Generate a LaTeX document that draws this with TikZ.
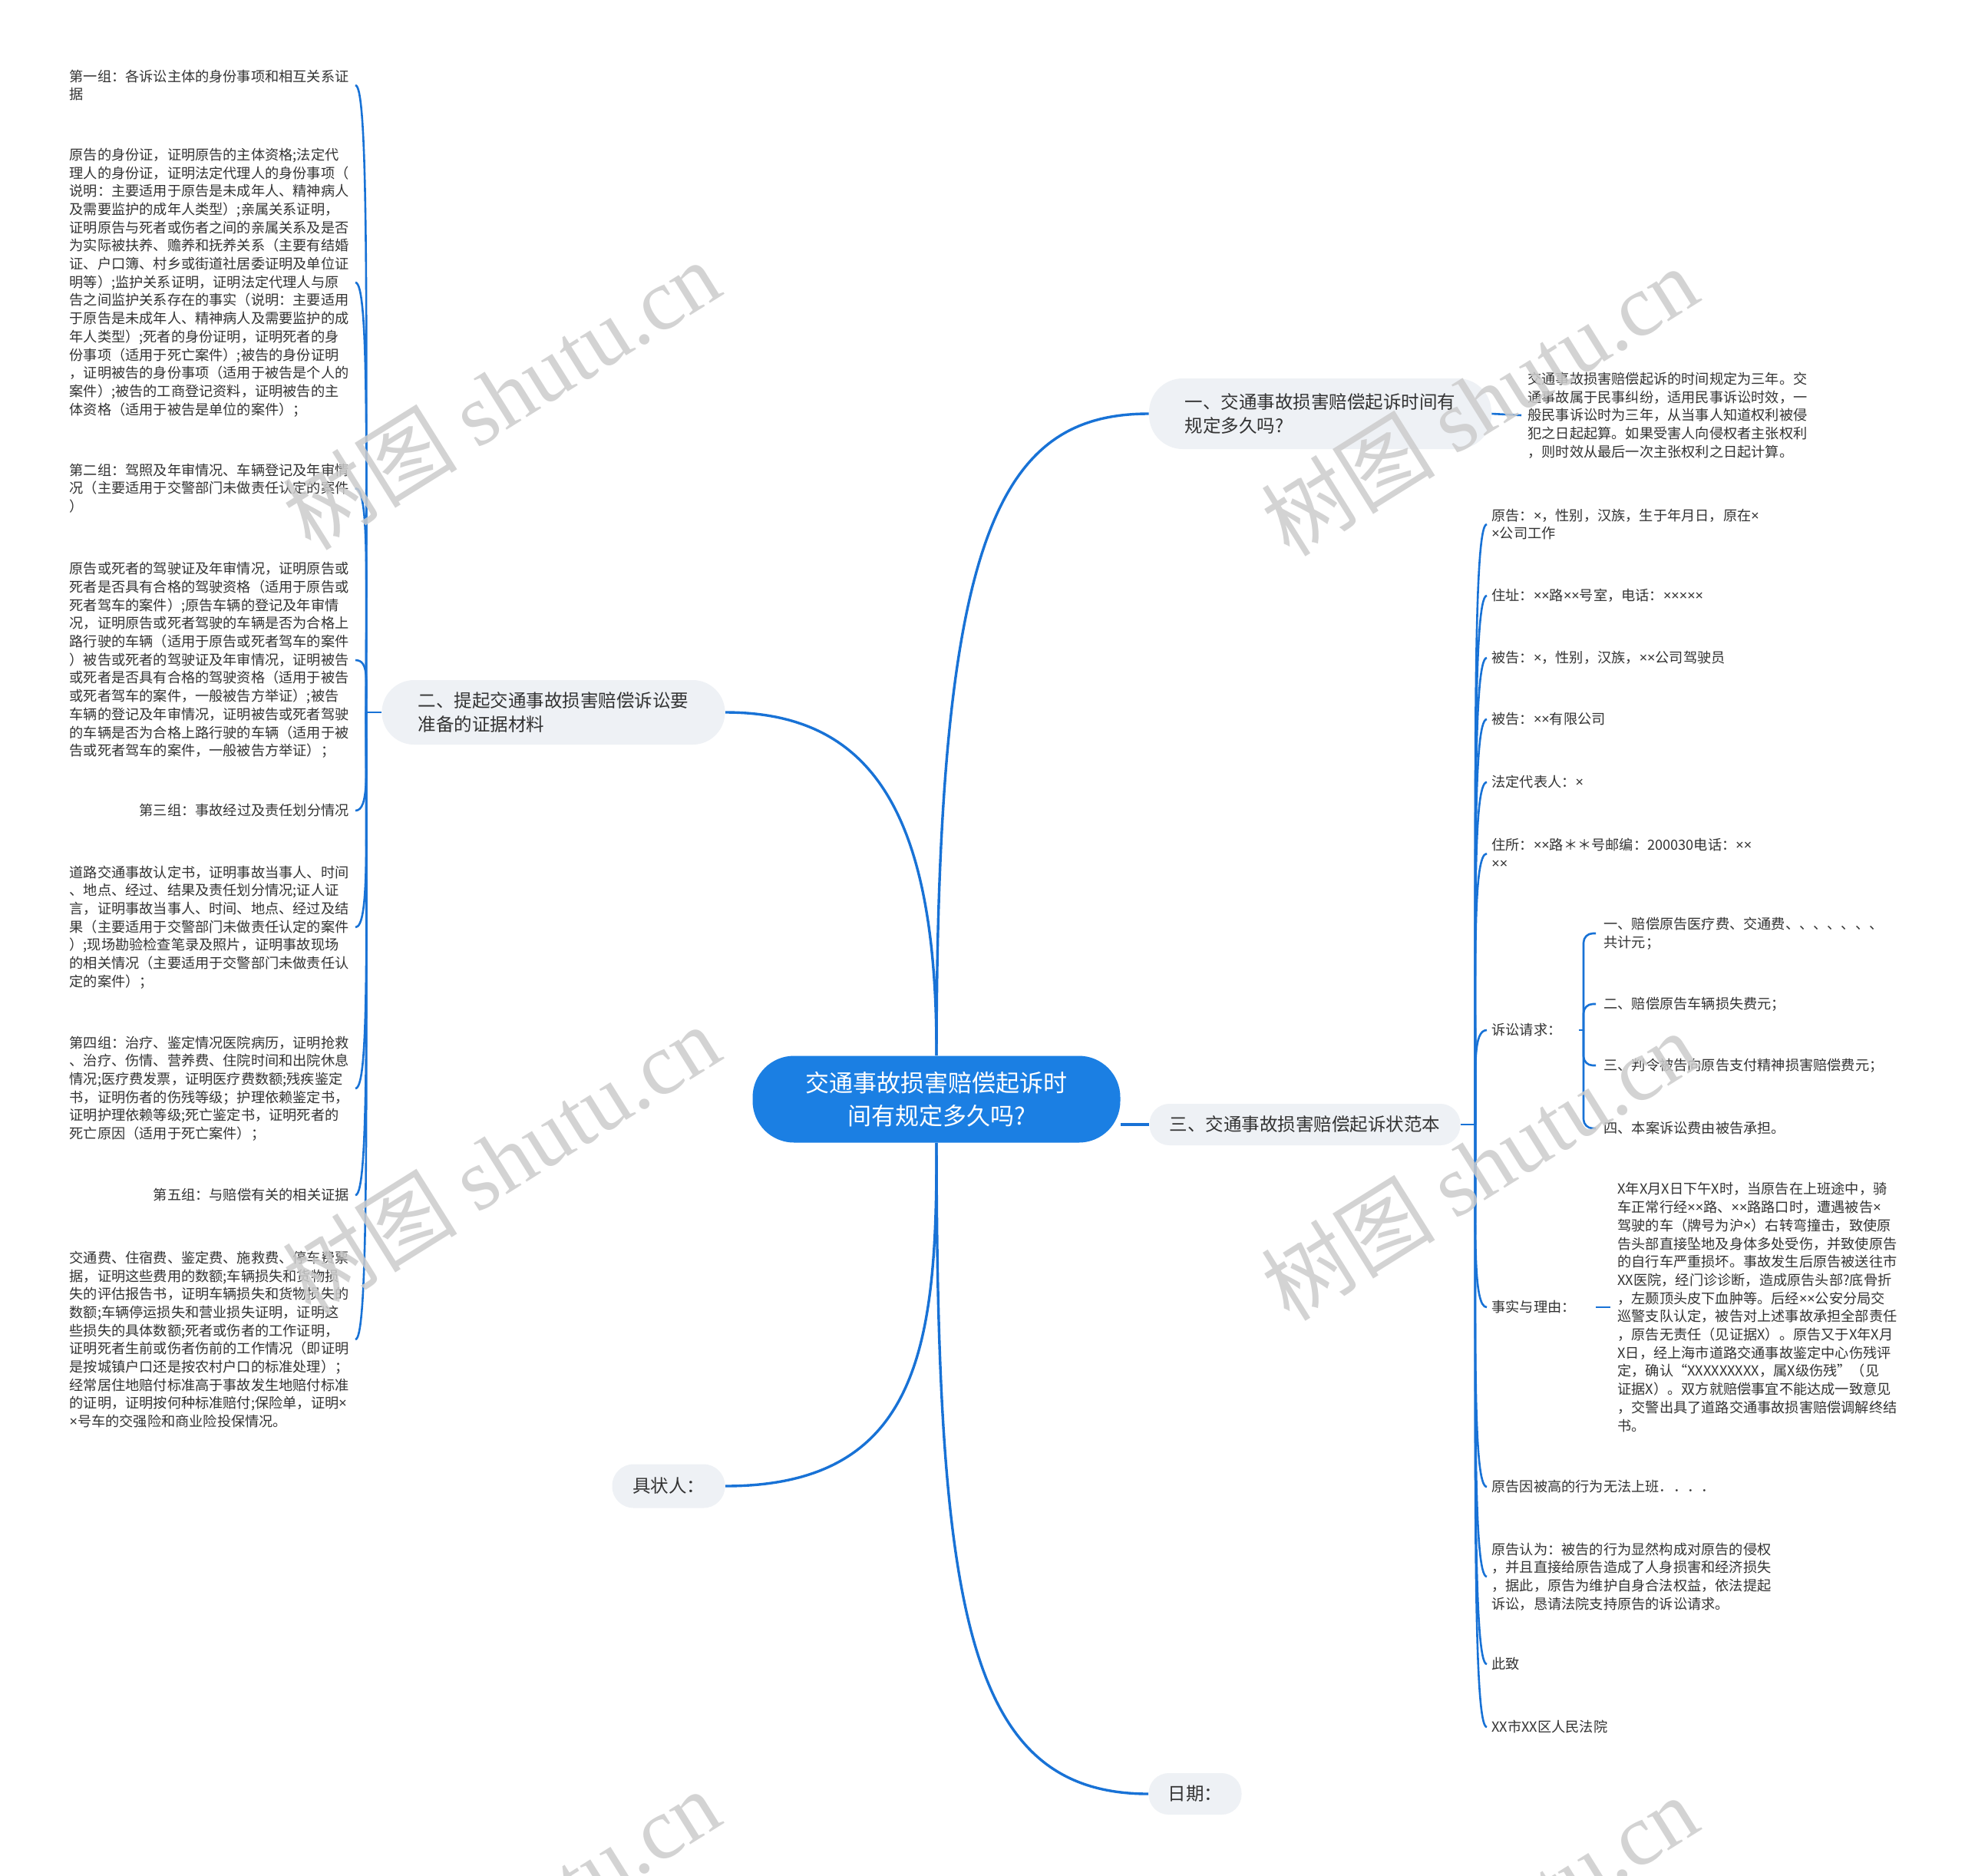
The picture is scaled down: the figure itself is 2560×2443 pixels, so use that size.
\documentclass[tikz,border=0pt]{standalone}
\usepackage{fontspec}
\setmainfont{Noto Sans CJK SC}
\newfontfamily\wmserif{Liberation Serif}
\newfontfamily\latinx{Noto Sans}
\usepackage{newunicodechar}
\newunicodechar{×}{{\latinx\char"D7}}
\usetikzlibrary{calc}
\definecolor{lnk}{HTML}{1872D6}
\definecolor{ctr}{HTML}{1B7FE3}
\definecolor{boxfill}{HTML}{EEF1F5}
\definecolor{txt}{HTML}{333333}
\pgfdeclarelayer{bgzero}
\pgfdeclarelayer{background}
\pgfdeclarelayer{fg}
\pgfsetlayers{bgzero,background,main,fg}
\tikzset{
  leaf/.style={font=\fontsize{9.1}{11.85}\selectfont, text=txt, align=left, inner xsep=4pt, inner ysep=1pt},
  branch/.style={fill=boxfill, font=\fontsize{11.75}{15.5}\selectfont, text=txt, align=left, inner sep=0pt},
  center/.style={fill=ctr, rounded corners=27pt, font=\fontsize{15.5}{21.25}\selectfont, text=white, align=center, inner sep=0pt, minimum width=239.5pt, minimum height=56.5pt},
  link/.style={draw=lnk, line width=1.3pt},
  mainlink/.style={draw=lnk, line width=1.7pt},
  wm/.style={rotate=32, font=\fontsize{57}{62}\selectfont, text=black!20, text opacity=0.85}
}
\newcommand\leftlink[1]{\draw[link] (J1) .. controls ($(J1)!0.6!(J1 |- #1.east)$) and ($(#1.east)+(18,0)$) .. (#1.east);}
\newcommand\rightlink[1]{\draw[link] (J3) .. controls ($(J3)!0.6!(J3 |- #1.west)$) and ($(#1.west)+(-18,0)$) .. (#1.west);}
\begin{document}
\begin{tikzpicture}[x=0.5pt,y=-0.5pt]
\useasboundingbox (0,0) rectangle (2560,2443);
\begin{pgfonlayer}{bgzero}
\fill[white] (0,0) rectangle (2560,2443);
\end{pgfonlayer}

% central and branches
\node[center] (c) at (1220,1432) {交通事故损害赔偿起诉时\\间有规定多久吗?};
\node[branch, rounded corners=22pt, minimum width=223pt, minimum height=46pt] (b1) at (1720,539) {一、交通事故损害赔偿起诉时间有\\规定多久吗?};
\node[branch, rounded corners=21pt, minimum width=223.5pt, minimum height=42pt] (b2) at (721,928) {二、提起交通事故损害赔偿诉讼要\\准备的证据材料};
\node[branch, rounded corners=13pt, minimum width=202.5pt, minimum height=27pt] (b3) at (1700,1465) {三、交通事故损害赔偿起诉状范本};
\node[branch, rounded corners=14pt, minimum width=73.5pt, minimum height=28.5pt] (b4) at (871,1936) {具状人：};
\node[branch, rounded corners=13pt, minimum width=60.5pt, minimum height=27pt] (b5) at (1557,2337) {日期：};

% branch 1 leaf
\node[leaf, anchor=west] (t1) at (1982,541) {交通事故损害赔偿起诉的时间规定为三年。交\\通事故属于民事纠纷，适用民事诉讼时效，一\\般民事诉讼时为三年，从当事人知道权利被侵\\犯之日起起算。如果受害人向侵权者主张权利\\，则时效从最后一次主张权利之日起计算。};

% left leaves
\node[leaf, anchor=east] (l1) at (463,111) {第一组：各诉讼主体的身份事项和相互关系证\\据};
\node[leaf, anchor=east] (l2) at (463,368) {原告的身份证，证明原告的主体资格;法定代\\理人的身份证，证明法定代理人的身份事项（\\说明：主要适用于原告是未成年人、精神病人\\及需要监护的成年人类型）;亲属关系证明，\\证明原告与死者或伤者之间的亲属关系及是否\\为实际被扶养、赡养和抚养关系（主要有结婚\\证、户口簿、村乡或街道社居委证明及单位证\\明等）;监护关系证明，证明法定代理人与原\\告之间监护关系存在的事实（说明：主要适用\\于原告是未成年人、精神病人及需要监护的成\\年人类型）;死者的身份证明，证明死者的身\\份事项（适用于死亡案件）;被告的身份证明\\，证明被告的身份事项（适用于被告是个人的\\案件）;被告的工商登记资料，证明被告的主\\体资格（适用于被告是单位的案件）；};
\node[leaf, anchor=east] (l3) at (463,636) {第二组：驾照及年审情况、车辆登记及年审情\\况（主要适用于交警部门未做责任认定的案件\\）};
\node[leaf, anchor=east] (l4) at (463,860) {原告或死者的驾驶证及年审情况，证明原告或\\死者是否具有合格的驾驶资格（适用于原告或\\死者驾车的案件）;原告车辆的登记及年审情\\况，证明原告或死者驾驶的车辆是否为合格上\\路行驶的车辆（适用于原告或死者驾车的案件\\）被告或死者的驾驶证及年审情况，证明被告\\或死者是否具有合格的驾驶资格（适用于被告\\或死者驾车的案件，一般被告方举证）;被告\\车辆的登记及年审情况，证明被告或死者驾驶\\的车辆是否为合格上路行驶的车辆（适用于被\\告或死者驾车的案件，一般被告方举证）；};
\node[leaf, anchor=east] (l5) at (463,1056) {第三组：事故经过及责任划分情况};
\node[leaf, anchor=east] (l6) at (463,1208) {道路交通事故认定书，证明事故当事人、时间\\、地点、经过、结果及责任划分情况;证人证\\言，证明事故当事人、时间、地点、经过及结\\果（主要适用于交警部门未做责任认定的案件\\）;现场勘验检查笔录及照片，证明事故现场\\的相关情况（主要适用于交警部门未做责任认\\定的案件）；};
\node[leaf, anchor=east] (l7) at (463,1418) {第四组：治疗、鉴定情况医院病历，证明抢救\\、治疗、伤情、营养费、住院时间和出院休息\\情况;医疗费发票，证明医疗费数额;残疾鉴定\\书，证明伤者的伤残等级；护理依赖鉴定书，\\证明护理依赖等级;死亡鉴定书，证明死者的\\死亡原因（适用于死亡案件）；};
\node[leaf, anchor=east] (l8) at (463,1557) {第五组：与赔偿有关的相关证据};
\node[leaf, anchor=east] (l9) at (463,1745) {交通费、住宿费、鉴定费、施救费、停车费票\\据，证明这些费用的数额;车辆损失和货物损\\失的评估报告书，证明车辆损失和货物损失的\\数额;车辆停运损失和营业损失证明，证明这\\些损失的具体数额;死者或伤者的工作证明，\\证明死者生前或伤者伤前的工作情况（即证明\\是按城镇户口还是按农村户口的标准处理）；\\经常居住地赔付标准高于事故发生地赔付标准\\的证明，证明按何种标准赔付;保险单，证明×\\×号车的交强险和商业险投保情况。};

% right leaves
\node[leaf, anchor=west, inner xsep=3pt] (r1) at (1937,683) {原告：×，性别，汉族，生于年月日，原在×\\×公司工作};
\node[leaf, anchor=west, inner xsep=3pt] (r2) at (1937,776) {住址：××路××号室，电话：×××××};
\node[leaf, anchor=west, inner xsep=3pt] (r3) at (1937,857) {被告：×，性别，汉族，××公司驾驶员};
\node[leaf, anchor=west, inner xsep=3pt] (r4) at (1937,937) {被告：××有限公司};
\node[leaf, anchor=west, inner xsep=3pt] (r5) at (1937,1019) {法定代表人：×};
\node[leaf, anchor=west, inner xsep=3pt] (r6) at (1937,1112) {住所：××路＊＊号邮编：200030电话：××\\××};
\node[leaf, anchor=west, inner xsep=3pt] (r7) at (1937,1342) {诉讼请求：};
\node[leaf, anchor=west, inner xsep=5pt] (s1) at (2079,1216) {一、赔偿原告医疗费、交通费、、、、、、、\\共计元；};
\node[leaf, anchor=west, inner xsep=5pt] (s2) at (2079,1308) {二、赔偿原告车辆损失费元；};
\node[leaf, anchor=west, inner xsep=5pt] (s3) at (2079,1388) {三、判令被告向原告支付精神损害赔偿费元；};
\node[leaf, anchor=west, inner xsep=5pt] (s4) at (2079,1470) {四、本案诉讼费由被告承担。};
\node[leaf, anchor=west, inner xsep=3pt] (r8) at (1937,1703) {事实与理由：};
\node[leaf, anchor=west, inner xsep=4.5pt] (fact) at (2098,1703) {X年X月X日下午X时，当原告在上班途中，骑\\车正常行经××路、××路路口时，遭遇被告×\\驾驶的车（牌号为沪×）右转弯撞击，致使原\\告头部直接坠地及身体多处受伤，并致使原告\\的自行车严重损坏。事故发生后原告被送往市\\XX医院，经门诊诊断，造成原告头部?底骨折\\，左颞顶头皮下血肿等。后经××公安分局交\\巡警支队认定，被告对上述事故承担全部责任\\，原告无责任（见证据X）。原告又于X年X月\\X日，经上海市道路交通事故鉴定中心伤残评\\定，确认“XXXXXXXXX，属X级伤残”（见\\证据X）。双方就赔偿事宜不能达成一致意见\\，交警出具了道路交通事故损害赔偿调解终结\\书。};
\node[leaf, anchor=west, inner xsep=3pt] (r9) at (1937,1937) {原告因被高的行为无法上班．．．．};
\node[leaf, anchor=west, inner xsep=3pt] (r10) at (1937,2054) {原告认为：被告的行为显然构成对原告的侵权\\，并且直接给原告造成了人身损害和经济损失\\，据此，原告为维护自身合法权益，依法提起\\诉讼，恳请法院支持原告的诉讼请求。};
\node[leaf, anchor=west, inner xsep=3pt] (r11) at (1937,2168) {此致};
\node[leaf, anchor=west, inner xsep=3pt] (r12) at (1937,2250) {XX市XX区人民法院};

\coordinate (J1) at (477,928);
\coordinate (J2) at (2063,1342);
\coordinate (J3) at (1922,1465);

\begin{pgfonlayer}{background}
\draw[mainlink] (c.north) .. controls (1221,700) and (1300,539) .. (b1.west);
\draw[mainlink] (c.north) .. controls (1221,1050) and (1130,928) .. (b2.east);
\draw[mainlink] (b3.west -| c.east) -- (b3.west);
\draw[mainlink] (c.south) .. controls (1221,1750) and (1200,1936) .. (b4.east);
\draw[mainlink] (c.south) .. controls (1221,2100) and (1260,2337) .. (b5.west);
\draw[link] (b1.east) -- (t1.west);
\draw[link] (b2.west) -- (J1);
\draw[link] (b3.east) -- (J3);
\leftlink{l1}\leftlink{l2}\leftlink{l3}\leftlink{l4}\leftlink{l5}\leftlink{l6}\leftlink{l7}\leftlink{l8}\leftlink{l9}
\rightlink{r1}\rightlink{r2}\rightlink{r3}\rightlink{r4}\rightlink{r5}\rightlink{r6}\rightlink{r7}\rightlink{r8}\rightlink{r9}\rightlink{r10}\rightlink{r11}\rightlink{r12}
\draw[link] ([xshift=8pt]r7.east) -- (J2);
\draw[link, rounded corners=6pt] (J2) |- (s1.west);
\draw[link, rounded corners=6pt] (J2) |- (s2.west);
\draw[link, rounded corners=6pt] (J2) |- (s3.west);
\draw[link, rounded corners=6pt] (J2) |- (s4.west);
\draw[link] ([xshift=10pt]r8.east) -- (fact.west);
\end{pgfonlayer}

\begin{pgfonlayer}{fg}
\begin{scope}
\clip (0,0) rectangle (2560,2443);
\node[wm] (w1) at (653,514) {树图 {\wmserif shutu.cn}};
\node[wm] (w2) at (1927,522) {树图 {\wmserif shutu.cn}};
\node[wm] (w3) at (653,1510) {树图 {\wmserif shutu.cn}};
\node[wm] (w4) at (1927,1518) {树图 {\wmserif shutu.cn}};
\node[wm] (w5) at (653,2506) {树图 {\wmserif shutu.cn}};
\node[wm] (w6) at (1927,2514) {树图 {\wmserif shutu.cn}};
\end{scope}
\end{pgfonlayer}
\end{tikzpicture}
\end{document}
